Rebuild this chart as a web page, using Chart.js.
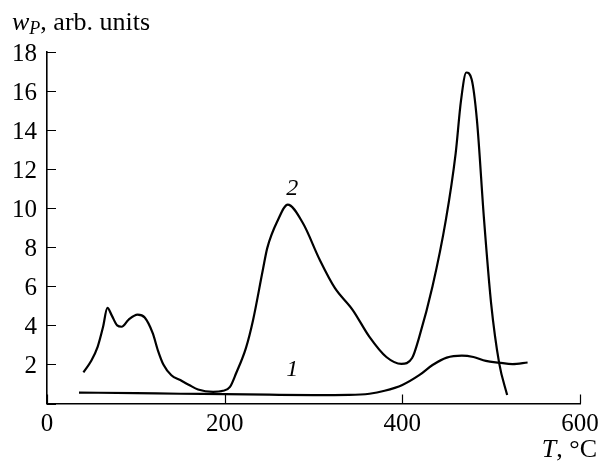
<!DOCTYPE html>
<html>
<head>
<meta charset="utf-8">
<script src="https://cdn.jsdelivr.net/npm/chart.js@4"></script>
<style>
html,body{margin:0;padding:0;background:#fff;}
#wrap{width:602px;height:464px;position:relative;}
</style>
</head>
<body>
<div id="wrap"><canvas id="c" width="602" height="464"></canvas></div>
<script>
// Curve 1
const temps1 = [36, 100, 150, 200, 250, 300, 340, 363, 380, 400, 419, 434, 450, 467, 480, 494, 509, 524, 541];
const vals1  = [0.56, 0.53, 0.5, 0.48, 0.45, 0.43, 0.44, 0.5, 0.65, 0.95, 1.45, 1.97, 2.35, 2.45, 2.38, 2.18, 2.09, 2.02, 2.1];
// Curve 2
const temps2 = [41, 50, 57, 63, 68, 73, 79, 84, 92, 102, 110, 119, 125, 131, 140, 150, 160, 170, 187, 198, 206, 213, 224, 232, 243, 248, 260, 271, 288, 307, 324, 344, 363, 382, 399, 411, 419, 434, 449, 460, 466, 472, 478, 484, 492, 500, 509, 518];
const vals2  = [1.6, 2.2, 2.9, 3.9, 4.9, 4.5, 4.0, 3.93, 4.3, 4.55, 4.4, 3.6, 2.7, 2.0, 1.45, 1.2, 0.95, 0.72, 0.6, 0.65, 0.85, 1.56, 2.85, 4.28, 6.85, 7.97, 9.4, 10.18, 9.24, 7.36, 5.92, 4.8, 3.41, 2.38, 2.03, 2.33, 3.4, 6.0, 9.4, 12.8, 15.5, 16.95, 16.6, 14.5, 9.4, 5.1, 2.07, 0.43];
const xTicks = [0, 200, 400, 600];
const yTicks = [2, 4, 6, 8, 10, 12, 14, 16, 18];
const curveLabels = [{text: '2', x: 276, y: 11.0}, {text: '1', x: 276, y: 1.75}];

const toXY = (xs, ys) => xs.map((x, i) => ({x: x, y: ys[i]}));
const serif = "'Liberation Serif', 'Times New Roman', serif";

const decor = {
  id: 'decor',
  afterDraw(chart) {
    const ctx = chart.ctx;
    const xs = chart.scales.x, ys = chart.scales.y;
    const ca = chart.chartArea;
    ctx.save();
    ctx.strokeStyle = '#000';
    ctx.lineWidth = 1.2;
    ctx.beginPath();
    xTicks.forEach(v => {
      const px = Math.round(xs.getPixelForValue(v)) + 0.5;
      ctx.moveTo(px, ca.bottom); ctx.lineTo(px, ca.bottom - 9);
    });
    [0].concat(yTicks).forEach(v => {
      const py = Math.round(ys.getPixelForValue(v)) + 0.5;
      ctx.moveTo(ca.left, py); ctx.lineTo(ca.left + 9, py);
    });
    ctx.stroke();
    ctx.fillStyle = '#000';
    ctx.font = 'italic 24px ' + serif;
    ctx.textAlign = 'center';
    ctx.textBaseline = 'middle';
    curveLabels.forEach(l => {
      ctx.fillText(l.text, xs.getPixelForValue(l.x), ys.getPixelForValue(l.y));
    });
    ctx.textAlign = 'left';
    ctx.textBaseline = 'alphabetic';
    let x0 = 12, base = 30;
    ctx.font = 'italic 26px ' + serif;
    ctx.fillText('w', x0, base);
    x0 += ctx.measureText('w').width;
    ctx.font = 'italic 18px ' + serif;
    ctx.fillText('P', x0, base + 4);
    x0 += ctx.measureText('P').width;
    ctx.font = '26px ' + serif;
    ctx.fillText(', arb. units', x0, base);
    ctx.textAlign = 'right';
    const t2 = ', °C';
    ctx.font = '26px ' + serif;
    const w2 = ctx.measureText(t2).width;
    ctx.fillText(t2, 597, 457);
    ctx.font = 'italic 26px ' + serif;
    ctx.fillText('T', 597 - w2, 457);
    ctx.restore();
  }
};

function draw() {
  new Chart(document.getElementById('c'), {
    type: 'line',
    data: {
      datasets: [
        {data: toXY(temps1, vals1), borderColor: '#000', borderWidth: 2.2, pointRadius: 0, cubicInterpolationMode: 'monotone', fill: false},
        {data: toXY(temps2, vals2), borderColor: '#000', borderWidth: 2.2, pointRadius: 0, cubicInterpolationMode: 'monotone', fill: false}
      ]
    },
    options: {
      responsive: false,
      animation: false,
      events: [],
      layout: {padding: {top: 52, right: 22, bottom: 0, left: 0}},
      plugins: {legend: {display: false}, tooltip: {enabled: false}},
      scales: {
        x: {
          type: 'linear', min: 0, max: 600,
          afterFit: s => { s.height = 60.5; s.paddingLeft = 0; s.paddingRight = 0; },
          afterBuildTicks: s => { s.ticks = xTicks.map(v => ({value: v})); },
          grid: {display: false, drawTicks: false},
          border: {display: true, color: '#000', width: 1.6},
          ticks: {color: '#000', font: {family: serif, size: 25}, padding: 6, maxRotation: 0}
        },
        y: {
          type: 'linear', min: 0, max: 18,
          afterFit: s => { s.width = 47; s.paddingTop = 0; s.paddingBottom = 0; },
          afterBuildTicks: s => { s.ticks = yTicks.map(v => ({value: v})); },
          grid: {display: false, drawTicks: false},
          border: {display: true, color: '#000', width: 1.6},
          ticks: {color: '#000', font: {family: serif, size: 25}, padding: 10, labelOffset: 2}
        }
      }
    },
    plugins: [decor]
  });
}
Promise.all([
  document.fonts.load("24px 'Liberation Serif'"),
  document.fonts.load("italic 24px 'Liberation Serif'")
]).then(draw, draw);
</script>
</body>
</html>
